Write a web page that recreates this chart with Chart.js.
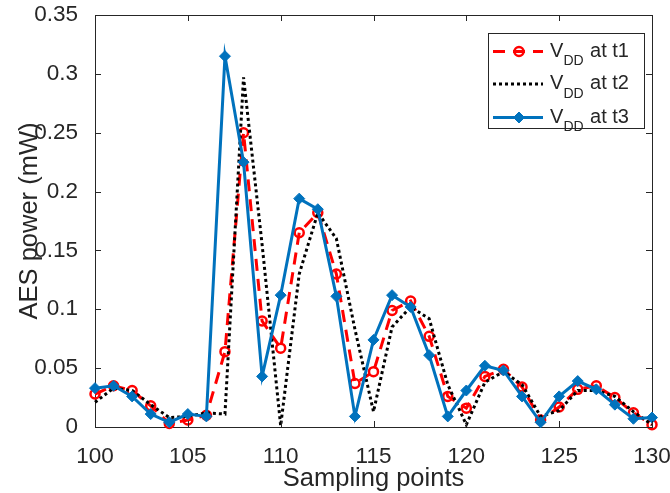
<!DOCTYPE html>
<html>
<head>
<meta charset="utf-8">
<script src="https://cdn.jsdelivr.net/npm/chart.js@4.4.1/dist/chart.umd.min.js"></script>
<style>
  html, body { margin: 0; padding: 0; background: #fff; }
  canvas { display: block; }
</style>
</head>
<body>
<canvas id="powerChart" width="670" height="493"></canvas>
<script>
// sampling points 100..130
const samplePoints = [100, 101, 102, 103, 104, 105, 106, 107, 108, 109, 110,
  111, 112, 113, 114, 115, 116, 117, 118, 119, 120,
  121, 122, 123, 124, 125, 126, 127, 128, 129, 130];

// AES power (mW) for each supply snapshot
const vddT1 = [0.028, 0.035, 0.031, 0.018, 0.003, 0.006, 0.010, 0.064, 0.250, 0.090, 0.067,
  0.165, 0.182, 0.130, 0.037, 0.047, 0.099, 0.107, 0.077, 0.026, 0.016,
  0.043, 0.049, 0.034, 0.006, 0.017, 0.032, 0.035, 0.025, 0.012, 0.002];
const vddT2 = [0.021, 0.033, 0.031, 0.019, 0.008, 0.009, 0.012, 0.011, 0.297, 0.155, 0.001,
  0.130, 0.182, 0.160, 0.083, 0.013, 0.085, 0.102, 0.092, 0.036, 0.002,
  0.038, 0.047, 0.036, 0.009, 0.014, 0.031, 0.031, 0.026, 0.013, 0.002];
const vddT3 = [0.033, 0.035, 0.026, 0.011, 0.004, 0.011, 0.009, 0.315, 0.225, 0.043, 0.112,
  0.194, 0.185, 0.111, 0.009, 0.074, 0.112, 0.102, 0.061, 0.009, 0.031,
  0.052, 0.048, 0.026, 0.004, 0.026, 0.039, 0.032, 0.019, 0.007, 0.008];

const xTickValues = [100, 105, 110, 115, 120, 125, 130];
const yTickLabels = ['0', '0.05', '0.1', '0.15', '0.2', '0.25', '0.3', '0.35'];
const legendNames = [' at t1', ' at t2', ' at t3'];

const FONT = "'Liberation Sans', Arial, Helvetica, sans-serif";
const AXIS_COLOR = '#262626';
const RED = '#ff0000';
const BLACK = '#000000';
const BLUE = '#0072bd';

const toXY = ys => samplePoints.map((x, i) => ({ x: x, y: ys[i] }));
const edge = { color: AXIS_COLOR, width: 1, display: true };

// short inward ticks on all four sides of the box
const innerTicks = {
  id: 'innerTicks',
  afterDatasetsDraw(chart) {
    const { ctx, chartArea: a, scales } = chart;
    const len = 6;
    ctx.save();
    ctx.strokeStyle = AXIS_COLOR;
    ctx.lineWidth = 1;
    ctx.beginPath();
    xTickValues.forEach(v => {
      const px = Math.round(scales.x.getPixelForValue(v)) + 0.5;
      ctx.moveTo(px, a.bottom); ctx.lineTo(px, a.bottom - len);
      ctx.moveTo(px, a.top); ctx.lineTo(px, a.top + len);
    });
    scales.y.ticks.forEach(t => {
      const py = Math.round(scales.y.getPixelForValue(t.value)) + 0.5;
      ctx.moveTo(a.left, py); ctx.lineTo(a.left + len, py);
      ctx.moveTo(a.right, py); ctx.lineTo(a.right - len, py);
    });
    ctx.stroke();
    ctx.restore();
  }
};

// legend with V_DD subscripts
const vddLegend = {
  id: 'vddLegend',
  afterDraw(chart) {
    const { ctx } = chart;
    const box = { x: 488, y: 33, w: 156, h: 95 };
    const rows = [51.5, 84, 117.5];
    ctx.save();
    ctx.fillStyle = '#fff';
    ctx.fillRect(box.x, box.y, box.w, box.h);
    ctx.strokeStyle = AXIS_COLOR;
    ctx.lineWidth = 1;
    ctx.strokeRect(box.x + 0.5, box.y + 0.5, box.w, box.h);

    chart.data.datasets.forEach((ds, i) => {
      const y = rows[i];
      ctx.strokeStyle = ds.borderColor;
      ctx.lineWidth = ds.borderWidth;
      ctx.setLineDash(ds.borderDash || []);
      ctx.beginPath();
      ctx.moveTo(493, y);
      ctx.lineTo(543, y);
      ctx.stroke();
      ctx.setLineDash([]);
      if (ds.pointRadius > 0) {
        ctx.fillStyle = ds.pointBackgroundColor;
        ctx.strokeStyle = ds.borderColor;
        ctx.lineWidth = ds.pointBorderWidth;
        ctx.beginPath();
        if (ds.pointStyle === 'circle') {
          ctx.arc(519, y, ds.pointRadius, 0, Math.PI * 2);
        } else {
          ctx.moveTo(519, y - ds.pointRadius);
          ctx.lineTo(519 + ds.pointRadius, y);
          ctx.lineTo(519, y + ds.pointRadius);
          ctx.lineTo(519 - ds.pointRadius, y);
          ctx.closePath();
        }
        ctx.fill();
        ctx.stroke();
      }
      const base = y + 5.2;
      ctx.fillStyle = AXIS_COLOR;
      ctx.textBaseline = 'alphabetic';
      ctx.textAlign = 'left';
      ctx.font = '20px ' + FONT;
      ctx.fillText('V', 550, base);
      ctx.font = '14px ' + FONT;
      ctx.fillText('DD', 563.5, base + 8.3);
      ctx.font = '20px ' + FONT;
      ctx.fillText(legendNames[i], 584.5, base);
    });
    ctx.restore();
  }
};

new Chart(document.getElementById('powerChart'), {
  type: 'line',
  data: {
    datasets: [
      {
        label: 'VDD at t1',
        data: toXY(vddT1),
        borderColor: RED,
        borderWidth: 3,
        borderDash: [12, 8],
        pointStyle: 'circle',
        pointRadius: 4.5,
        pointBorderWidth: 2.5,
        pointBackgroundColor: 'rgba(0,0,0,0)',
        pointBorderColor: RED,
        order: 2
      },
      {
        label: 'VDD at t2',
        data: toXY(vddT2),
        borderColor: BLACK,
        borderWidth: 3,
        borderDash: [3, 3],
        pointRadius: 0,
        order: 1
      },
      {
        label: 'VDD at t3',
        data: toXY(vddT3),
        borderColor: BLUE,
        borderWidth: 3,
        pointStyle: 'rectRot',
        pointRadius: 5.5,
        pointBorderWidth: 1,
        pointBackgroundColor: BLUE,
        pointBorderColor: BLUE,
        order: 0
      }
    ]
  },
  options: {
    responsive: false,
    animation: false,
    clip: false,
    elements: { line: { tension: 0 } },
    layout: { padding: { left: 0, right: 18, top: 15, bottom: 0 } },
    plugins: {
      legend: { display: false },
      tooltip: { enabled: false }
    },
    scales: {
      x: {
        type: 'linear',
        min: 100,
        max: 130,
        afterFit: s => { s.height = 66; s.paddingLeft = 0; s.paddingRight = 0; },
        afterBuildTicks: s => { s.ticks = xTickValues.map(v => ({ value: v })); },
        grid: { display: false },
        border: edge,
        ticks: {
          padding: 8,
          maxRotation: 0,
          color: AXIS_COLOR,
          font: { family: FONT, size: 22.5 }
        },
        title: {
          display: true,
          text: 'Sampling points',
          color: AXIS_COLOR,
          font: { family: FONT, size: 25.5 },
          padding: { top: 0, bottom: -1 }
        }
      },
      xTop: {
        type: 'linear',
        position: 'top',
        min: 100,
        max: 130,
        afterFit: s => { s.height = 0; s.paddingLeft = 0; s.paddingRight = 0; },
        grid: { display: false },
        border: edge,
        ticks: { display: false }
      },
      y: {
        min: 0,
        max: 0.35,
        afterFit: s => { s.width = 95; s.paddingTop = 0; s.paddingBottom = 0; },
        grid: { display: false },
        border: edge,
        ticks: {
          stepSize: 0.05,
          padding: 9,
          color: AXIS_COLOR,
          font: { family: FONT, size: 22.5 },
          callback: (v, i) => yTickLabels[i]
        },
        title: {
          display: true,
          text: 'AES power (mW)',
          color: AXIS_COLOR,
          font: { family: FONT, size: 25.5 },
          padding: { top: 15, bottom: 0 }
        }
      },
      yRight: {
        position: 'right',
        min: 0,
        max: 0.35,
        afterFit: s => { s.width = 0; s.paddingTop = 0; s.paddingBottom = 0; },
        grid: { display: false },
        border: edge,
        ticks: { display: false }
      }
    }
  },
  plugins: [innerTicks, vddLegend]
});
</script>
</body>
</html>
